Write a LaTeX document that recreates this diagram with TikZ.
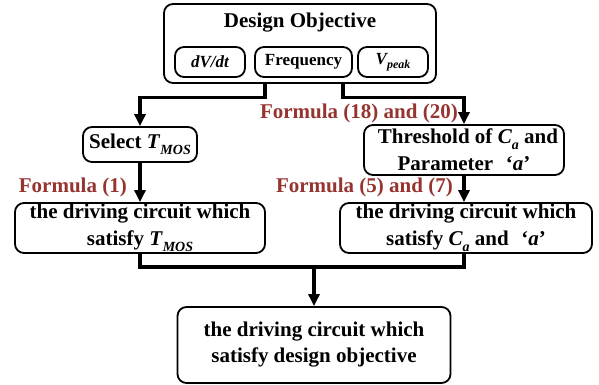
\documentclass[tikz,border=0pt]{standalone}
\usepackage{fontspec}
\setmainfont{Liberation Serif}
\usetikzlibrary{arrows.meta,calc}
\definecolor{fcol}{RGB}{150,52,48}
\newcommand{\mysub}[1]{\raisebox{-0.28em}{\fontsize{14}{14}\selectfont\itshape #1}}
\begin{document}
\begin{tikzpicture}[x=1pt,y=-1pt,
  box/.style={draw,line width=1.8pt,rounded corners=9pt,align=center,inner sep=0pt,
    font=\fontsize{21}{27}\selectfont\bfseries},
  sbox/.style={box,font=\fontsize{17}{20}\selectfont\bfseries,minimum height=30pt},
  conn/.style={line width=3.2pt},
  arr/.style={conn,-{Triangle[width=11pt,length=12pt]}},
  flabel/.style={text=fcol,font=\fontsize{21}{25}\selectfont\bfseries,anchor=east,inner sep=0pt}]
\useasboundingbox (0,0) rectangle (599,385);
% top box
\node[box,minimum width=272pt,minimum height=79pt] (outer) at (300,43.5) {};
\node[font=\fontsize{21}{25}\selectfont\bfseries] (title) at (300,23) {Design Objective};
\node[sbox,minimum width=70pt] (dvdt) at (210,62) {\itshape dV/dt};
\node[sbox,minimum width=97pt] (freq) at (303.5,62) {Frequency};
\node[sbox,minimum width=70pt] (vpeak) at (393,62) {\itshape V\raisebox{-0.25em}{\fontsize{12}{12}\selectfont peak}};
% left branch
\node[box,minimum width=114pt,minimum height=35pt] (select) at (140,144.5) {Select \textit{T}\mysub{MOS}};
\node[box,minimum width=250pt,minimum height=50pt] (ldrive) at (140,228) {the driving circuit which\\satisfy \textit{T}\mysub{MOS}};
% right branch
\node[box,minimum width=200pt,minimum height=50pt] (thr) at (464,150) {\hspace*{8pt}Threshold of \textit{C}\mysub{a} and\\Parameter\hspace{0.6em}‘\textit{a}’};
\node[box,minimum width=252pt,minimum height=50pt] (rdrive) at (466,228) {the driving circuit which\\satisfy \textit{C}\mysub{a} and\hspace{0.6em}‘\textit{a}’};
% final
\node[box,minimum width=273pt,minimum height=76pt,font=\fontsize{21}{26}\selectfont\bfseries] (final) at (314,345) {the driving circuit which\\satisfy design objective};
% labels
\node[flabel] (f1) at (127,187) {Formula (1)};
\node[flabel] (f1820) at (458,113) {Formula (18) and (20)};
\node[flabel] (f57) at (453,187) {Formula (5) and (7)};
% connectors
\coordinate (ol) at ([xshift=-35pt]outer.south);
\coordinate (or) at ([xshift=43pt]outer.south);
\draw[arr] (ol) -- ++(0,14) -| (select.north);
\draw[arr] (or) -- ++(0,14) -| (thr.north);
\draw[arr] (select.south) -- (ldrive.north);
\draw[arr] (thr.south) -- (thr.south |- rdrive.north);
\coordinate (jl) at (140,267);
\coordinate (jr) at (464,267);
\coordinate (jm) at (314,267);
\draw[conn] (ldrive.south) -- (jl) -- (jr) -- (jr |- rdrive.south);
\draw[arr] (jm) -- (final.north);
\end{tikzpicture}
\end{document}
